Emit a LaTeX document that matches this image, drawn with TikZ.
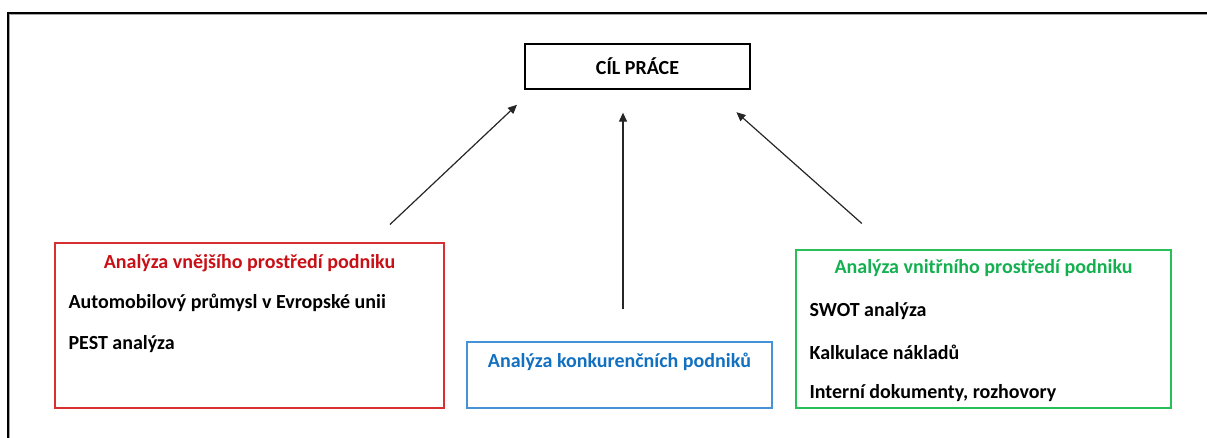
\documentclass[tikz,border=0pt]{standalone}
\usepackage{fontspec}
\setmainfont{Carlito}
\usetikzlibrary{positioning,arrows.meta}

\definecolor{boxred}{RGB}{214,48,48}
\definecolor{txtred}{RGB}{200,16,22}
\definecolor{boxblue}{RGB}{70,146,214}
\definecolor{txtblue}{RGB}{18,112,192}
\definecolor{boxgreen}{RGB}{40,190,90}
\definecolor{txtgreen}{RGB}{20,176,80}

\tikzset{
  panel/.style={draw, line width=1.3pt, inner sep=0pt},
  label/.style={font=\fontsize{20}{24}\selectfont\bfseries, inner sep=0pt},
  arr/.style={-{Triangle[length=9pt,width=8pt]}, line width=1.2pt, draw=black!85},
}

\begin{document}
\begin{tikzpicture}[x=1pt, y=-1pt]
  \useasboundingbox (0,0) rectangle (1207,438);
  % outer frame
  \draw[black!35, line width=1pt] (9.5,470) -- (9.5,14.5) -- (1240,14.5);
  \draw[line width=2pt] (8,470) -- (8,13) -- (1240,13);

  % boxes
  \node[panel, minimum width=225pt, minimum height=45pt] (cil) at (637.5,66.5) {};
  \node[panel, draw=boxred, minimum width=389pt, minimum height=165pt] (ext) at (249.5,325.5) {};
  \node[panel, draw=boxblue, minimum width=305pt, minimum height=66pt] (comp) at (619.5,375) {};
  \node[panel, draw=boxgreen, minimum width=375pt, minimum height=158pt] (int) at (983.5,329) {};

  % texts
  \node[label] (cilt) at (cil) {CÍL PRÁCE};

  \node[label, text=txtred] (extt) at ([yshift=-21pt]ext.north) {Analýza vnějšího prostředí podniku};
  \node[label, anchor=west] (ext1) at ([xshift=14pt, yshift=22.5pt]ext.west) {Automobilový průmysl v Evropské unii};
  \node[label, anchor=west] (ext2) at ([xshift=14pt, yshift=-18.5pt]ext.west) {PEST analýza};

  \node[label, text=txtblue] (compt) at ([yshift=-20pt]comp.north) {Analýza konkurenčních podniků};

  \node[label, text=txtgreen] (intt) at ([yshift=-19pt]int.north) {Analýza vnitřního prostředí podniku};
  \node[label, anchor=west] (int1) at ([xshift=14pt, yshift=18pt]int.west) {SWOT analýza};
  \node[label, anchor=west] (int2) at ([xshift=14pt, yshift=-23pt]int.west) {Kalkulace nákladů};
  \node[label, anchor=west] (int3) at ([xshift=14pt, yshift=-64pt]int.west) {Interní dokumenty, rozhovory};

  % arrows
  \draw[arr, shorten <=26pt, shorten >=22pt] ([xshift=121.5pt]ext.north) -- ([xshift=-104.5pt]cil.south);
  \draw[arr, shorten <=32pt, shorten >=23pt] ([xshift=3.5pt]comp.north) -- ([xshift=-14.5pt]cil.south);
  \draw[arr, shorten <=39pt, shorten >=34pt] ([xshift=-92.5pt]int.north) -- ([xshift=73.5pt]cil.south);
\end{tikzpicture}
\end{document}
